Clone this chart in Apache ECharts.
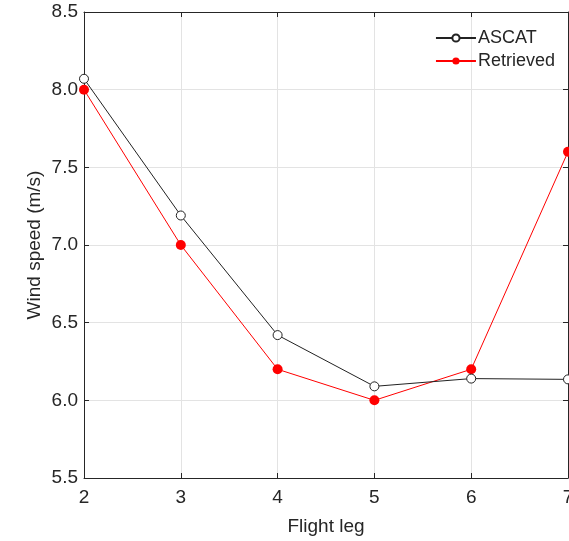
<!DOCTYPE html>
<html><head><meta charset="utf-8">
<script src="https://cdn.jsdelivr.net/npm/echarts@6/dist/echarts.min.js"></script>
<style>html,body{margin:0;padding:0;background:#fff}#c{width:569px;height:541px}</style>
</head><body><div id="c"></div>
<script>
const legs = [2, 3, 4, 5, 6, 7];
const ascat = [8.07, 7.19, 6.42, 6.09, 6.14, 6.135];
const retrieved = [8.0, 7.0, 6.2, 6.0, 6.2, 7.6];
const xTicks = [2, 3, 4, 5, 6, 7];
const yTicks = [5.5, 6.0, 6.5, 7.0, 7.5, 8.0, 8.5];

const axisCol = '#262626';
const font = 'Liberation Sans, Arial, sans-serif';
const chart = echarts.init(document.getElementById('c'));
const mk = (a) => a.map((v, i) => [legs[i], v]);
chart.setOption({
  animation: false,
  backgroundColor: '#fff',
  grid: { left: 84, right: 1, top: 12, bottom: 63, containLabel: false, outerBoundsMode: 'none' },
  legend: {
    right: 9, top: 24, orient: 'vertical', itemWidth: 40, itemHeight: 9, itemGap: 5,
    textStyle: { fontFamily: font, fontSize: 18, color: axisCol, padding: [0, 0, 0, -3] },
    data: ['ASCAT', 'Retrieved']
  },
  xAxis: [{
    type: 'value', min: 2, max: 7, interval: 1,
    name: 'Flight leg', nameLocation: 'middle', nameGap: 39,
    nameTextStyle: { fontFamily: font, fontSize: 19, color: axisCol },
    axisLine: { show: true, lineStyle: { color: axisCol, width: 1 } },
    axisTick: { show: true, inside: true, length: 5, lineStyle: { color: axisCol } },
    axisLabel: { fontFamily: font, fontSize: 19, color: axisCol, margin: 10, showMaxLabel: true },
    splitLine: { show: true, lineStyle: { color: '#e3e3e3', width: 1 } }
  }, {
    type: 'value', position: 'top', min: 2, max: 7, interval: 1,
    axisLine: { show: true, lineStyle: { color: axisCol, width: 1 } },
    axisTick: { show: true, inside: true, length: 5, lineStyle: { color: axisCol } },
    axisLabel: { show: false }, splitLine: { show: false }
  }],
  yAxis: [{
    type: 'value', min: 5.5, max: 8.5, interval: 0.5,
    name: 'Wind speed (m/s)', nameLocation: 'middle', nameGap: 40, nameMoveOverlap: false,
    nameTextStyle: { fontFamily: font, fontSize: 19, color: axisCol },
    axisLine: { show: true, lineStyle: { color: axisCol, width: 1 } },
    axisTick: { show: true, inside: true, length: 5, lineStyle: { color: axisCol } },
    axisLabel: { fontFamily: font, fontSize: 19, color: axisCol, margin: 6, formatter: v => v.toFixed(1) },
    splitLine: { show: true, lineStyle: { color: '#e3e3e3', width: 1 } }
  }, {
    type: 'value', position: 'right', min: 5.5, max: 8.5, interval: 0.5,
    axisLine: { show: true, lineStyle: { color: axisCol, width: 1 } },
    axisTick: { show: true, inside: true, length: 5, lineStyle: { color: axisCol } },
    axisLabel: { show: false }, splitLine: { show: false }
  }],
  series: [{
    name: 'ASCAT', type: 'line', data: mk(ascat), xAxisIndex: 0, yAxisIndex: 0,
    symbol: 'circle', symbolSize: 9,
    lineStyle: { color: '#222', width: 1 },
    itemStyle: { color: '#fff', borderColor: '#222', borderWidth: 1 },
    color: '#222', z: 3
  }, {
    name: 'Retrieved', type: 'line', data: mk(retrieved), xAxisIndex: 0, yAxisIndex: 0,
    symbol: 'circle', symbolSize: 10,
    lineStyle: { color: '#ff0000', width: 1 },
    itemStyle: { color: '#ff0000', borderColor: '#ff0000', borderWidth: 0 },
    color: '#ff0000', z: 2
  }]
});
</script></body></html>
